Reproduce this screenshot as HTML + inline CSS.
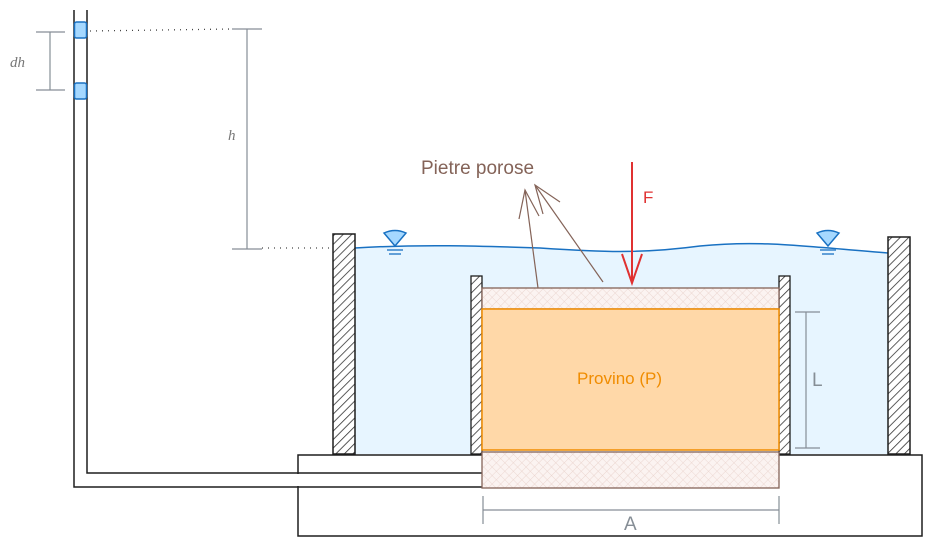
<!DOCTYPE html>
<html><head><meta charset="utf-8"><style>
html,body{margin:0;padding:0;background:#fff;width:933px;height:547px;overflow:hidden}
text{font-family:"Liberation Sans",sans-serif}
text.ser{font-family:"Liberation Serif",serif;font-style:italic}
</style></head><body>
<svg width="933" height="547" viewBox="0 0 933 547" xmlns="http://www.w3.org/2000/svg">
<defs>
<pattern id="hat" width="6" height="6" patternUnits="userSpaceOnUse" patternTransform="rotate(45)">
<rect width="6" height="6" fill="#fff"/><line x1="0" y1="0" x2="0" y2="6" stroke="#333" stroke-width="1.6"/>
</pattern>
<pattern id="cross" width="6" height="6" patternUnits="userSpaceOnUse" patternTransform="rotate(45)">
<rect width="6" height="6" fill="#fbf3f1"/><path d="M0 0V6M0 0H6" stroke="#e8cfc8" stroke-width="0.8"/>
</pattern>
</defs>
<path d="M355 248 C420 244,480 246,540 248 C600 252,640 254,700 246 C760 240,800 246,888 253 L888 454 L355 454 Z" fill="#e7f5ff"/>
<path d="M355 248 C420 244,480 246,540 248 C600 252,640 254,700 246 C760 240,800 246,888 253" fill="none" stroke="#1971c2" stroke-width="1.5"/>
<rect x="298" y="455" width="624" height="81" fill="#fff" stroke="#1e1e1e" stroke-width="1.5"/>
<path d="M74 10 V487 H482" fill="none" stroke="#1e1e1e" stroke-width="1.5"/>
<path d="M87 10 V473 H482" fill="none" stroke="#1e1e1e" stroke-width="1.5"/>
<rect x="292" y="474" width="14" height="12" fill="#fff"/>
<rect x="74.5" y="22" width="12" height="16" rx="2" fill="#a5d8ff" stroke="#1971c2" stroke-width="1.5"/>
<rect x="74.5" y="83" width="12" height="16" rx="2" fill="#a5d8ff" stroke="#1971c2" stroke-width="1.5"/>
<g stroke="#868e96" stroke-width="1.2"><line x1="36" y1="32" x2="65" y2="32"/><line x1="36" y1="90" x2="65" y2="90"/><line x1="50" y1="32" x2="50" y2="90"/>
<line x1="232" y1="29" x2="262" y2="29"/><line x1="232" y1="249" x2="262" y2="249"/><line x1="247" y1="29" x2="247" y2="249"/>
<line x1="795" y1="312" x2="820" y2="312"/><line x1="795" y1="448" x2="820" y2="448"/><line x1="806" y1="312" x2="806" y2="448"/>
<line x1="483" y1="510" x2="779" y2="510"/><line x1="483" y1="496" x2="483" y2="524"/><line x1="779" y1="496" x2="779" y2="524"/></g>
<text class="ser" x="10" y="67" font-size="15" fill="#777">dh</text>
<text class="ser" x="228" y="140" font-size="15" fill="#777">h</text>
<text x="812" y="386" font-size="19" fill="#868e96">L</text>
<text x="624" y="530" font-size="19" fill="#868e96">A</text>
<g stroke="#444" stroke-width="1.3" stroke-dasharray="1 5"><line x1="90" y1="31" x2="232" y2="29"/><line x1="262" y1="248" x2="333" y2="248"/></g>
<rect x="333" y="234" width="22" height="220" fill="url(#hat)" stroke="#1e1e1e" stroke-width="1.5"/>
<rect x="888" y="237" width="22" height="217" fill="url(#hat)" stroke="#1e1e1e" stroke-width="1.5"/>
<rect x="471" y="276" width="11" height="178" fill="url(#hat)" stroke="#1e1e1e" stroke-width="1.3"/>
<rect x="779" y="276" width="11" height="178" fill="url(#hat)" stroke="#1e1e1e" stroke-width="1.3"/>
<rect x="482" y="288" width="297" height="21" fill="url(#cross)" stroke="#846358" stroke-width="1.3"/>
<rect x="482" y="309" width="297" height="141" fill="#ffd8a8" stroke="#f08c00" stroke-width="1.5"/>
<rect x="482" y="452" width="297" height="36" fill="url(#cross)" stroke="#846358" stroke-width="1.3"/>
<text x="577" y="384" font-size="17" fill="#f08c00">Provino (P)</text>
<g stroke="#e03131" stroke-width="2" fill="none"><line x1="632" y1="162" x2="632" y2="283"/><path d="M622 254 L632 283 L642 254"/></g>
<text x="643" y="203" font-size="17" fill="#e03131">F</text>
<text x="421" y="174" font-size="19" fill="#846358">Pietre porose</text>
<g stroke="#846358" stroke-width="1.2" fill="none">
<line x1="525" y1="190" x2="538" y2="288"/><path d="M519 219 L525 190 L539 216"/>
<line x1="535" y1="185" x2="603" y2="282"/><path d="M543 214 L535 185 L560 202"/>
</g>
<g fill="#a5d8ff" stroke="#1971c2" stroke-width="1.5">
<path d="M384 233 Q395 228 406 233 L395 246 Z"/><path d="M817 233 Q828 228 839 233 L828 246 Z"/></g>
<g stroke="#1971c2" stroke-width="1.3"><line x1="387" y1="250" x2="403" y2="250"/><line x1="389" y1="254" x2="401" y2="254"/>
<line x1="820" y1="250" x2="836" y2="250"/><line x1="822" y1="254" x2="834" y2="254"/></g>
</svg>
</body></html>
